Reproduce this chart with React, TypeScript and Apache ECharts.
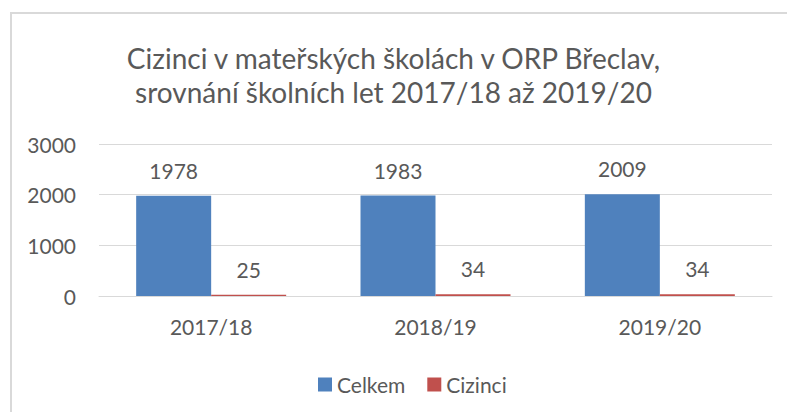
import React, { useEffect, useRef } from "react";
import * as echarts from "echarts";

const categories = ["2017/18", "2018/19", "2019/20"];
const celkem = [1978, 1983, 2009];
const cizinci = [25, 34, 34];
const seriesNames = ["Celkem", "Cizinci"];
const titleText = "Cizinci v mateřských školách v ORP Břeclav,\nsrovnání školních let 2017/18 až 2019/20";

const FONT = "Lato, 'Open Sans', sans-serif";
const TEXT = "#595959";
const FS = 21;

export default function App() {
  const ref = useRef<HTMLDivElement>(null);
  useEffect(() => {
    document.body.style.margin = "0";
    const chart = echarts.init(ref.current!, null, { renderer: "svg" });
    const label = {
      show: true,
      position: "top",
      distance: 15,
      fontFamily: FONT,
      fontSize: FS,
      color: TEXT,
    };
    chart.setOption({
      animation: false,
      backgroundColor: "#ffffff",
      graphic: [
        {
          type: "rect",
          shape: { x: 11, y: 13, width: 800, height: 420 },
          style: { fill: "none", stroke: "#d9d9d9", lineWidth: 2 },
          silent: true,
        },
      ],
      title: {
        text: titleText,
        left: "center",
        top: 36,
        textStyle: {
          fontFamily: FONT,
          fontSize: 28,
          fontWeight: "normal",
          color: TEXT,
          lineHeight: 34,
        },
      },
      legend: {
        data: seriesNames,
        top: 369,
        left: 313,
        itemWidth: 14,
        itemHeight: 14,
        itemGap: 22,
        icon: "rect",
        textStyle: { fontFamily: FONT, fontSize: FS, color: TEXT },
      },
      grid: { left: 99, right: 15, top: 144, bottom: 116 },
      xAxis: {
        type: "category",
        data: categories,
        axisLine: { show: true, lineStyle: { color: "#d9d9d9", width: 1 } },
        axisTick: { show: false },
        axisLabel: { fontFamily: FONT, fontSize: FS, color: TEXT, margin: 20 },
      },
      yAxis: {
        type: "value",
        min: 0,
        max: 3000,
        interval: 1000,
        axisLine: { show: false },
        axisTick: { show: false },
        splitLine: { lineStyle: { color: "#d9d9d9", width: 1 } },
        axisLabel: {
          fontFamily: FONT,
          fontSize: FS,
          color: TEXT,
          margin: 23,
          formatter: (v: number) => String(v),
        },
      },
      series: [
        {
          name: seriesNames[0],
          type: "bar",
          data: celkem,
          barWidth: 75,
          barGap: "0%",
          itemStyle: { color: "#4f81bd" },
          label,
        },
        {
          name: seriesNames[1],
          type: "bar",
          data: cizinci,
          barWidth: 75,
          barGap: "0%",
          itemStyle: { color: "#c0504d" },
          label,
        },
      ],
    });
    return () => chart.dispose();
  }, []);
  return <div ref={ref} style={{ width: 787, height: 412 }} />;
}
